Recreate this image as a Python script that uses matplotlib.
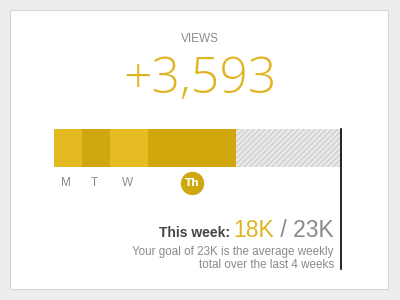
import matplotlib.pyplot as plt
import matplotlib.transforms as mtransforms
from matplotlib.patches import FancyBboxPatch

days = ['M', 'T', 'W', 'Th']
views_k = [2.25, 2.25, 3.05, 7.05]      # width of each day's block, in K
day_colors = ['#E3BA1F', '#CFA70E', '#E5BD22', '#D0A80C']
goal_k = 23
week_total = '18K'
goal_label = '23K'
delta_label = '+3,593'

plt.rcParams['hatch.linewidth'] = 0.6
plt.rcParams['hatch.color'] = '#C2C2C2'

fig = plt.figure(figsize=(4, 3), dpi=100, facecolor='#EDEDF0')

def fy(py):
    # pixel row from the top -> figure fraction
    return 1 - py / 300

# white card
card = FancyBboxPatch((10 / 400, 11 / 300), 378 / 400, 279 / 300,
                      boxstyle='square,pad=0', transform=fig.transFigure,
                      facecolor='white', edgecolor='#D6D6DA', linewidth=0.8,
                      zorder=-5)
fig.patches.append(card)

fig.text(0.5, fy(42), 'VIEWS', ha='center', va='baseline',
         color='#8C8C8C', fontsize=8.5, family='Liberation Sans')
fig.text(0.5, fy(93), delta_label, ha='center', va='baseline',
         color='#E0B523', fontsize=36, fontweight='light', family='Open Sans')

ax = fig.add_axes([54 / 400, fy(167), 287 / 400, 38 / 300])
left = 0
for i in range(len(days)):
    ax.barh(0, views_k[i], left=left, height=1, color=day_colors[i],
            linewidth=0)
    left += views_k[i]
ax.barh(0, goal_k - left, left=left, height=1, facecolor='#E8E8E8',
        hatch='//////', linewidth=0)
ax.set_xlim(0, goal_k)
ax.set_ylim(-0.5, 0.5)
ax.axis('off')

trans = mtransforms.blended_transform_factory(ax.transData, ax.transAxes)
left = 0
for i in range(len(days)):
    cx = left + views_k[i] / 2
    if days[i] == 'Th':
        ax.scatter([cx], [-0.42], s=250, color='#CFA70E', transform=trans,
                   clip_on=False, zorder=5)
        ax.text(cx, -0.42, days[i], ha='center', va='center', color='white',
                fontsize=7.5, fontweight='bold', transform=trans, zorder=6)
    else:
        ax.text(cx - 0.15, -0.42, days[i], ha='center', va='center',
                color='#8A8A8A', fontsize=8.5, family='Liberation Sans',
                transform=trans)
    left += views_k[i]

# goal line
ax.plot([goal_k, goal_k], [-2.68, 1], color='black', linewidth=1.2,
        transform=trans, clip_on=False)

# summary texts
fig.text(334 / 400, fy(237), ' / ' + goal_label, ha='right', va='baseline',
         color='#8A8A8A', fontsize=16.5, family='Liberation Sans')
fig.canvas.draw()
r = fig.texts[-1].get_window_extent()
fig.text(r.x0 / 400, fy(237), week_total, ha='right', va='baseline',
         color='#E0B523', fontsize=16.5, family='Liberation Sans')
fig.canvas.draw()
r = fig.texts[-1].get_window_extent()
fig.text(r.x0 / 400 - 0.008, fy(237), 'This week:', ha='right', va='baseline',
         color='#444444', fontsize=10, fontweight='bold', family='Liberation Sans')

fig.text(334 / 400, fy(255), 'Your goal of ' + goal_label + ' is the average weekly',
         ha='right', va='baseline', color='#8A8A8A', fontsize=8.4,
         family='Liberation Sans')
fig.text(334 / 400, fy(268), 'total over the last 4 weeks',
         ha='right', va='baseline', color='#8A8A8A', fontsize=8.4,
         family='Liberation Sans')

fig.savefig('out.png', dpi=100, facecolor=fig.get_facecolor())
